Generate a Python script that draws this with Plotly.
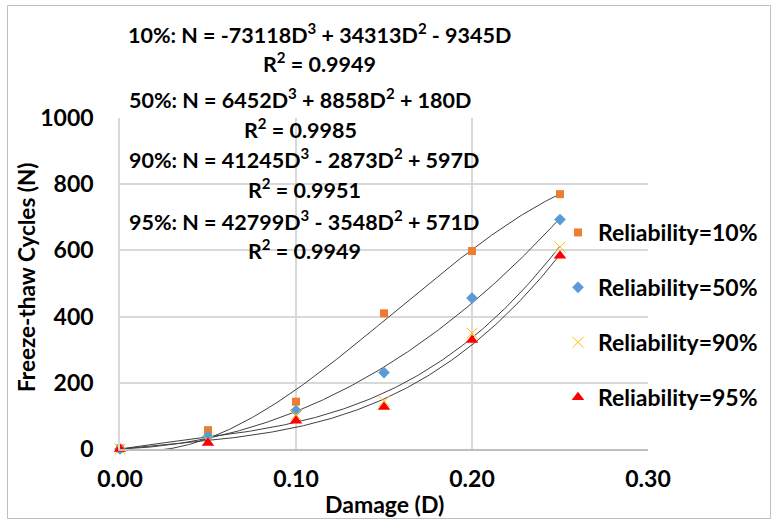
import numpy as np
import plotly.graph_objects as go

# ---- data ----
damage = [0.00, 0.05, 0.10, 0.15, 0.20, 0.25]
rel10 = [2, 57, 143, 410, 598, 770]
rel50 = [0, 38, 116, 231, 456, 693]
rel90 = [0, 26, 103, 144, 350, 610]
rel95 = [0, 18, 85, 127, 329, 584]

series_names = ["Reliability=10%", "Reliability=50%", "Reliability=90%", "Reliability=95%"]
eq_texts = [
    "10%: N = -73118D<sup>3</sup> + 34313D<sup>2</sup> - 9345D",
    "50%: N = 6452D<sup>3</sup> + 8858D<sup>2</sup> + 180D",
    "90%: N = 41245D<sup>3</sup> - 2873D<sup>2</sup> + 597D",
    "95%: N = 42799D<sup>3</sup> - 3548D<sup>2</sup> + 571D",
]
r2_texts = ["R<sup>2</sup> = 0.9949", "R<sup>2</sup> = 0.9985", "R<sup>2</sup> = 0.9951", "R<sup>2</sup> = 0.9949"]
x_ticks = [0.0, 0.1, 0.2, 0.3]
y_ticks = [0, 200, 400, 600, 800, 1000]

FONT = "Lato"
W, H = 775, 523
L, R, T, B = 120, 127, 118, 74
PW, PH = W - L - R, H - T - B


def px(xp):
    return (xp - L) / PW


def py(yp):
    return (H - B - yp) / PH


fig = go.Figure()

# cubic trendlines through the origin (least squares on the data)
D = np.array(damage)
grid = np.linspace(0, max(damage), 200)
for vals in [rel10, rel50, rel90, rel95]:
    A = np.vstack([D ** 3, D ** 2, D]).T
    coef, *_ = np.linalg.lstsq(A, np.array(vals, dtype=float), rcond=None)
    fit = coef[0] * grid ** 3 + coef[1] * grid ** 2 + coef[2] * grid
    fig.add_trace(go.Scatter(x=grid, y=fit, mode="lines", line=dict(color="#404040", width=1),
                             showlegend=False, hoverinfo="skip"))

styles = [
    dict(symbol="square", color="#ED7D31", size=8),
    dict(symbol="diamond", color="#5B9BD5", size=9),
    dict(symbol="x-thin", color="#FFC000", size=11, line=dict(color="#FFC000", width=1)),
    dict(symbol="triangle-up", color="#FF0000", size=11),
]
for i, (vals, name) in enumerate(zip([rel10, rel50, rel90, rel95], series_names)):
    fig.add_trace(go.Scatter(x=damage, y=vals, mode="markers", name=name, marker=styles[i],
                             legendgroup=f"g{i}", cliponaxis=False))

annotations = []
eq_pos = [(319, 33, 63), (300, 98, 129), (304, 158, 188), (304, 220, 249)]
for (cx, ye, yr), et, rt in zip(eq_pos, eq_texts, r2_texts):
    annotations.append(dict(x=px(cx), y=py(ye), xref="paper", yref="paper", text=et, showarrow=False,
                            xanchor="center", yanchor="middle",
                            font=dict(family=FONT, size=21.5, color="black", weight="bold")))
    annotations.append(dict(x=px(cx), y=py(yr), xref="paper", yref="paper", text=rt, showarrow=False,
                            xanchor="center", yanchor="middle",
                            font=dict(family=FONT, size=21.5, color="black", weight="bold")))

annotations.append(dict(x=px(26), y=py(278), xref="paper", yref="paper", text="Freeze-thaw Cycles (N)",
                        showarrow=False, textangle=-90, xanchor="center", yanchor="middle",
                        font=dict(family=FONT, size=22.5, color="black", weight="bold")))
annotations.append(dict(x=px(384), y=py(504), xref="paper", yref="paper", text="Damage (D)",
                        showarrow=False, xanchor="center", yanchor="middle",
                        font=dict(family=FONT, size=23, color="black", weight="bold")))

fig.update_layout(
    width=W, height=H,
    margin=dict(l=L, r=R, t=T, b=B, autoexpand=False),
    paper_bgcolor="white", plot_bgcolor="white",
    showlegend=True,
    legend=dict(x=px(558), y=py(211), xanchor="left", yanchor="top",
                font=dict(family=FONT, size=23, color="black", weight="bold"),
                tracegroupgap=22, bgcolor="rgba(0,0,0,0)", itemclick=False),
    annotations=annotations,
    shapes=[dict(type="rect", xref="paper", yref="paper", x0=px(7.5), x1=px(770.5), y0=py(518.5), y1=py(5.5),
                 line=dict(color="#BFBFBF", width=1), layer="below")],
)
fig.update_xaxes(range=[0, 0.3], tickvals=x_ticks, tickformat=".2f", showgrid=True, gridcolor="#D9D9D9",
                 gridwidth=1.5, zeroline=False, showline=True, linecolor="#BFBFBF", linewidth=1.5,
                 ticks="", ticklabelstandoff=9,
                 tickfont=dict(family=FONT, size=23, color="black", weight="bold"))
fig.update_yaxes(range=[0, 1000], tickvals=y_ticks, showgrid=True, gridcolor="#D9D9D9", gridwidth=1.5,
                 zeroline=False, showline=True, linecolor="#D9D9D9", linewidth=1.5, ticks="",
                 ticklabelstandoff=20,
                 tickfont=dict(family=FONT, size=23, color="black", weight="bold"))

fig.write_html("out.html")
